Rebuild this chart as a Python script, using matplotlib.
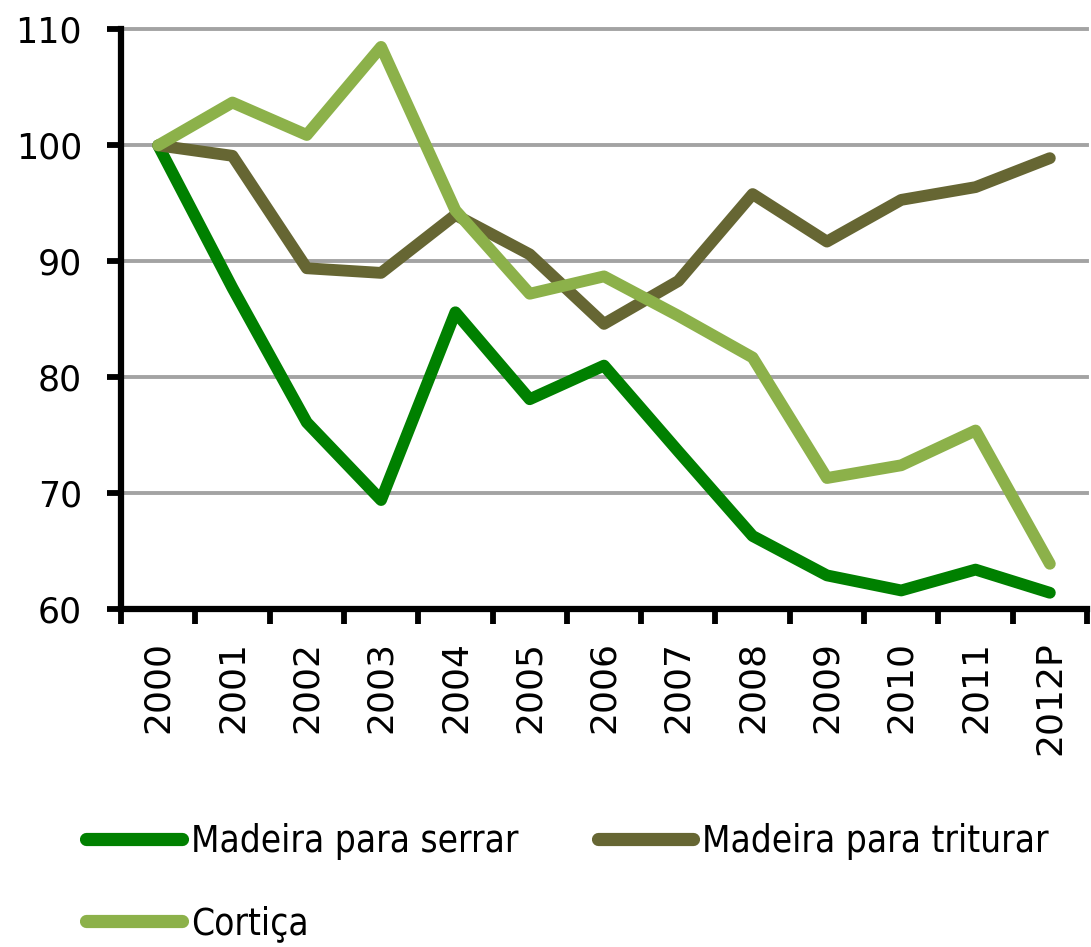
import matplotlib
matplotlib.use("Agg")
import matplotlib.pyplot as plt
from matplotlib import font_manager
import numpy as np

years = ["2000", "2001", "2002", "2003", "2004", "2005", "2006",
         "2007", "2008", "2009", "2010", "2011", "2012P"]
serrar = [100, 87.7, 76.1, 69.4, 85.6, 78.1, 81.0, 73.6, 66.3, 62.9, 61.6, 63.4, 61.4]
triturar = [100, 99.1, 89.4, 89.0, 94.0, 90.6, 84.6, 88.3, 95.8, 91.7, 95.3, 96.4, 98.9]
corticas = [100, 103.7, 100.9, 108.5, 94.4, 87.2, 88.7, 85.3, 81.7, 71.3, 72.4, 75.4, 63.9]
labels = ["Madeira para serrar", "Madeira para triturar", "Cortiça"]
colors = ["#008000", "#666633", "#8CB14A"]
yticks = [60, 70, 80, 90, 100, 110]

plt.rcParams['font.family'] = ['DejaVu Sans']

leg_font = font_manager.FontProperties(family='DejaVu Sans', stretch='condensed', size=26.5)

W, H = 1091, 947
fig = plt.figure(figsize=(W / 100, H / 100), dpi=100)
left_px, right_px, top_px, bot_px = 121, 1087, 29.5, 609
ax = fig.add_axes([left_px / W, (H - bot_px) / H, (right_px - left_px) / W, (bot_px - top_px) / H])

x = np.arange(len(years))
lines = []
for data, lab, col in zip([serrar, triturar, corticas], labels, colors):
    ln, = ax.plot(x, data, color=col, lw=8.5, label=lab,
                  solid_capstyle='round', solid_joinstyle='round', zorder=3)
    lines.append(ln)

ax.set_xlim(-0.5, len(years) - 0.5)
ax.set_ylim(60, 110)
ax.set_yticks(yticks)
ax.set_yticklabels([str(v) for v in yticks], fontsize=25)
ax.yaxis.grid(True, color="#A3A3A3", lw=2.8, zorder=1)
for gl in ax.get_ygridlines():
    gl.set_clip_on(False)
ax.set_axisbelow(True)

ax.set_xticks(x)
ax.set_xticklabels(years, rotation=90, fontsize=26)
ax.set_xticks(np.arange(-0.5, len(years) + 0.5, 1), minor=True)
ax.tick_params(axis='x', which='major', length=0, pad=23)
ax.tick_params(axis='x', which='minor', length=11, width=4.2, direction='out', color='black')
ax.tick_params(axis='y', which='major', length=10, width=4.2, pad=18, direction='out')

for s in ['top', 'right']:
    ax.spines[s].set_visible(False)
for s in ['left', 'bottom']:
    ax.spines[s].set_linewidth(4.5)
    ax.spines[s].set_color('black')

handles = [lines[0], lines[2], lines[1]]
labs = [labels[0], labels[2], labels[1]]
leg = fig.legend(handles, labs, ncol=2, loc='upper left',
                 bbox_to_anchor=(86 / W, (H - 823) / H),
                 frameon=False, prop=leg_font, handlelength=2.6, handletextpad=0.25,
                 columnspacing=2.15, labelspacing=1.22, borderpad=0, borderaxespad=0)
for h in leg.legend_handles:
    h.set_linewidth(9.5)
    h.set_solid_capstyle('round')

fig.savefig("out.png", dpi=100)
